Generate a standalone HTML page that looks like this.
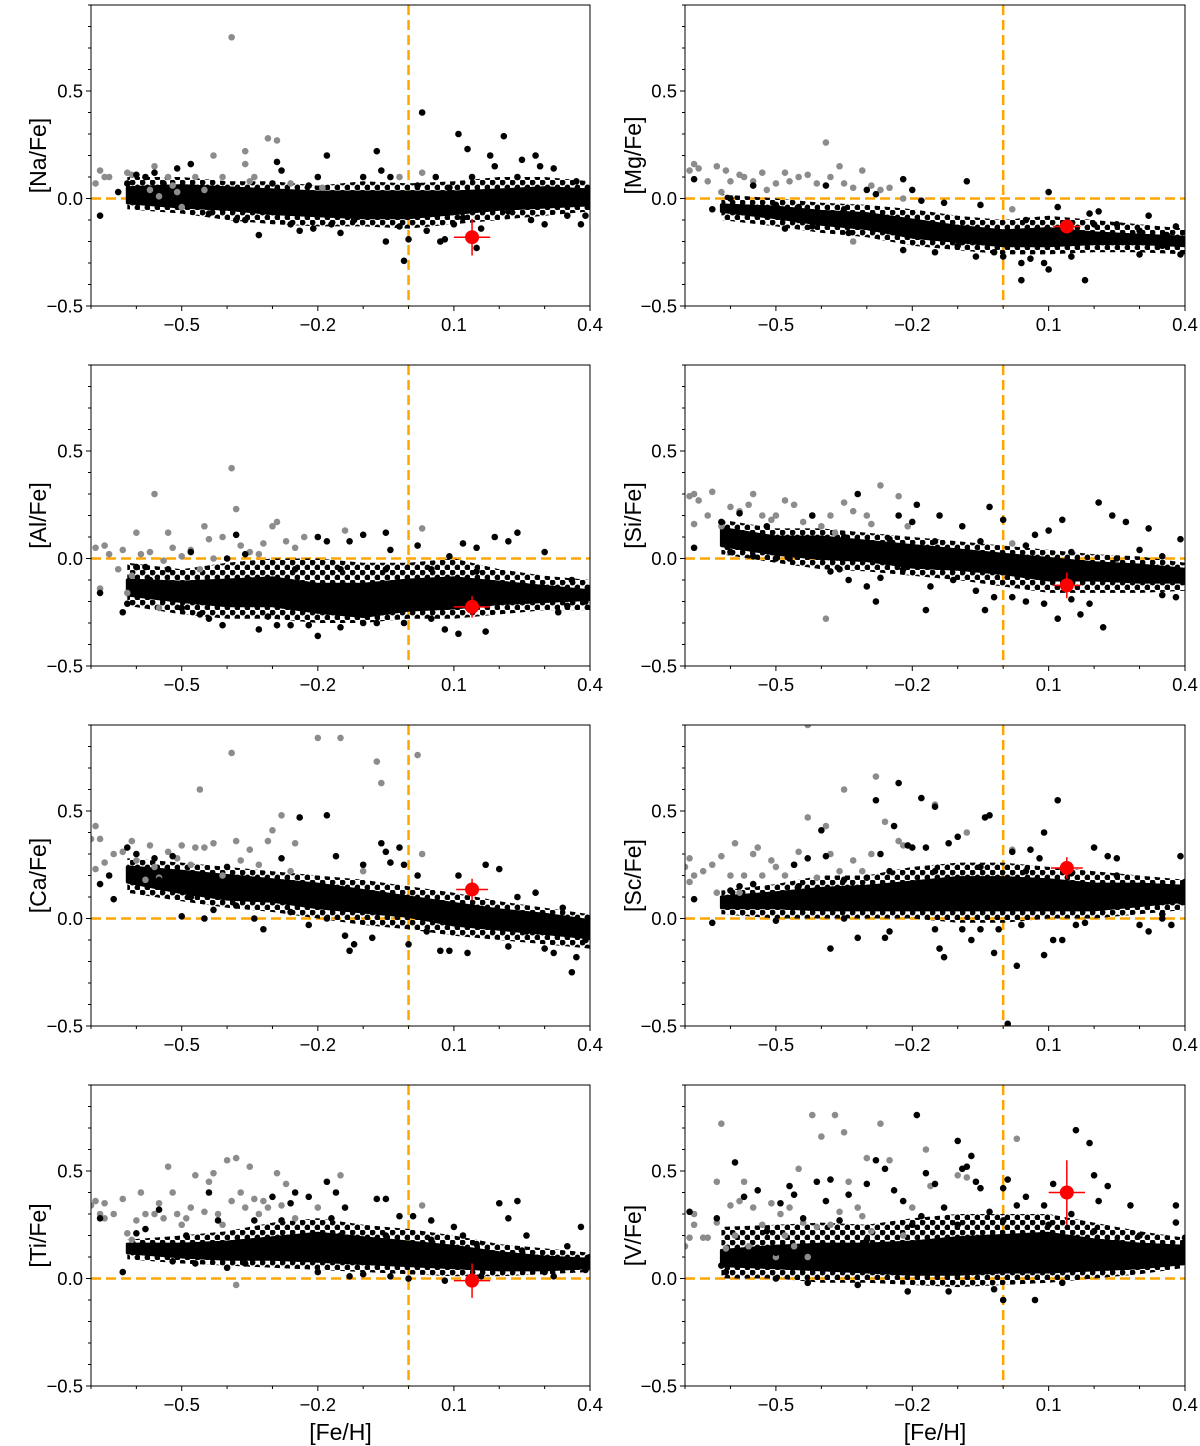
<!DOCTYPE html>
<html><head><meta charset="utf-8"><title>Abundance ratios vs [Fe/H]</title>
<style>
html,body{margin:0;padding:0;background:#fff;}
svg{display:block;font-family:"Liberation Sans","DejaVu Sans",sans-serif;}
</style></head>
<body>
<svg id="fig" width="1200" height="1446" viewBox="0 0 1200 1446" xmlns="http://www.w3.org/2000/svg"></svg>
<script>
// ---------- shared axis data ----------
const xTickValues=[-0.5,-0.2,0.1,0.4];
const xTickLabels=["\u22120.5","\u22120.2","0.1","0.4"];
const yTickValues=[-0.5,0.0,0.5];
const yTickLabels=["\u22120.5","0.0","0.5"];
const xDomain=[-0.7,0.4];
const yDomain=[-0.5,0.9];
const bandX=[-0.62,-0.5,-0.4,-0.3,-0.2,-0.1,0,0.1,0.2,0.3,0.4];

// ---------- panel data ----------
const naLabel="[Na/Fe]";
const naLo=[-0.02,-0.04,-0.05,-0.07,-0.08,-0.09,-0.09,-0.07,-0.05,-0.04,-0.03];
const naHi=[0.05,0.06,0.05,0.04,0.03,0.03,0.03,0.03,0.04,0.05,0.04];
const naOutLo=[-0.05,-0.07,-0.1,-0.12,-0.13,-0.13,-0.14,-0.12,-0.1,-0.08,-0.06];
const naOutHi=[0.1,0.1,0.08,0.08,0.06,0.08,0.07,0.08,0.1,0.1,0.08];
const naGray=[[-0.69,0.07],[-0.68,0.13],[-0.67,0.1],[-0.66,0.1],[-0.62,0.12],[-0.61,0.11],[-0.57,0.04],[-0.56,0.15],[-0.55,0.01],[-0.52,0.06],[-0.51,0.03],[-0.5,-0.04],[-0.47,0.1],[-0.45,0.04],[-0.43,0.2],[-0.41,0.1],[-0.39,0.75],[-0.36,0.22],[-0.36,0.16],[-0.35,0.08],[-0.34,0.1],[-0.31,0.28],[-0.29,0.27],[-0.26,0.07],[-0.19,0.05],[-0.02,0.1],[0.03,0.12],[-0.53,0.1]];
const naBlack=[[-0.68,-0.08],[-0.6,0.11],[-0.58,0.1],[-0.56,0.12],[-0.51,0.14],[-0.48,0.16],[-0.44,-0.07],[-0.41,-0.05],[-0.38,-0.1],[-0.36,-0.1],[-0.33,-0.17],[-0.29,0.17],[-0.28,0.13],[-0.26,-0.12],[-0.24,-0.15],[-0.21,-0.14],[-0.18,0.2],[-0.17,-0.12],[-0.15,-0.16],[-0.12,-0.1],[-0.1,0.1],[-0.07,0.22],[-0.06,0.13],[-0.05,-0.2],[-0.04,0.1],[-0.02,-0.13],[-0.01,-0.29],[0.0,-0.19],[0.02,0.06],[0.03,0.4],[0.04,-0.15],[0.06,0.1],[0.07,-0.2],[0.08,-0.19],[0.1,-0.12],[0.11,0.3],[0.12,-0.09],[0.13,0.23],[0.15,-0.23],[0.16,-0.14],[0.18,0.2],[0.19,0.15],[0.21,0.29],[0.22,-0.06],[0.24,0.1],[0.25,0.18],[0.27,-0.1],[0.28,0.2],[0.29,0.15],[0.3,-0.12],[0.32,0.14],[0.34,0.03],[0.35,-0.08],[0.37,0.08],[0.38,-0.12],[0.39,-0.08],[0.4,0.02],[-0.64,0.03],[-0.62,0.07],[-0.54,0.07],[-0.46,0.0],[-0.2,0.1],[-0.22,0.06],[-0.3,0.07],[0.14,0.1],[0.09,0.05]];
const naStar=[0.14,-0.18,0.04,0.085];

const mgLabel="[Mg/Fe]";
const mgLo=[-0.06,-0.09,-0.12,-0.14,-0.18,-0.2,-0.22,-0.22,-0.21,-0.21,-0.22];
const mgHi=[-0.03,-0.04,-0.06,-0.07,-0.1,-0.13,-0.15,-0.14,-0.16,-0.17,-0.18];
const mgOutLo=[-0.1,-0.13,-0.16,-0.18,-0.22,-0.24,-0.26,-0.26,-0.25,-0.25,-0.26];
const mgOutHi=[0.02,0.0,-0.02,-0.03,-0.05,-0.08,-0.1,-0.08,-0.1,-0.12,-0.14];
const mgGray=[[-0.69,0.13],[-0.68,0.16],[-0.67,0.14],[-0.65,0.08],[-0.63,0.15],[-0.62,0.03],[-0.61,0.13],[-0.6,0.08],[-0.58,0.11],[-0.57,0.1],[-0.55,0.08],[-0.53,0.12],[-0.52,0.04],[-0.5,0.07],[-0.48,0.12],[-0.47,0.08],[-0.45,0.1],[-0.43,0.11],[-0.41,0.07],[-0.39,0.26],[-0.38,0.1],[-0.36,0.15],[-0.35,0.07],[-0.33,0.05],[-0.31,0.13],[-0.29,0.06],[-0.27,0.04],[-0.25,0.05],[-0.33,-0.2],[-0.22,0.0],[0.02,-0.05]];
const mgBlack=[[-0.68,0.09],[-0.64,-0.05],[-0.6,0.0],[-0.55,0.06],[-0.52,-0.08],[-0.48,-0.14],[-0.45,-0.1],[-0.42,-0.13],[-0.39,0.06],[-0.34,-0.16],[-0.3,0.04],[-0.28,0.02],[-0.22,0.09],[-0.2,0.04],[-0.18,-0.01],[-0.22,-0.24],[-0.15,-0.25],[-0.1,-0.22],[-0.08,0.08],[-0.06,-0.27],[-0.02,-0.25],[0.0,-0.27],[0.04,-0.3],[0.04,-0.38],[0.06,-0.28],[0.09,-0.3],[0.1,0.03],[0.1,-0.33],[0.12,-0.04],[0.15,-0.27],[0.18,-0.38],[0.19,-0.07],[0.21,-0.06],[0.25,-0.12],[0.27,-0.2],[0.3,-0.26],[0.32,-0.08],[0.35,-0.22],[0.38,-0.13],[0.39,-0.26],[0.4,-0.2],[-0.56,-0.05],[-0.5,-0.03],[-0.45,-0.04],[-0.35,-0.05],[-0.25,-0.12],[-0.13,-0.02],[-0.05,-0.03],[0.05,-0.1],[0.2,-0.12],[0.3,-0.15],[0.36,-0.17]];
const mgStar=[0.14,-0.13,0.03,0.03];

const alLabel="[Al/Fe]";
const alLo=[-0.17,-0.2,-0.22,-0.22,-0.25,-0.27,-0.24,-0.23,-0.21,-0.2,-0.19];
const alHi=[-0.1,-0.11,-0.1,-0.09,-0.12,-0.12,-0.1,-0.09,-0.11,-0.13,-0.15];
const alOutLo=[-0.22,-0.26,-0.28,-0.28,-0.3,-0.3,-0.28,-0.28,-0.26,-0.24,-0.24];
const alOutHi=[-0.02,-0.05,-0.02,0.0,0.0,-0.02,-0.02,0.0,-0.05,-0.08,-0.1];
const alGray=[[-0.69,0.05],[-0.68,-0.14],[-0.67,0.06],[-0.66,0.02],[-0.64,-0.05],[-0.63,0.04],[-0.62,-0.16],[-0.61,-0.08],[-0.6,0.12],[-0.59,0.02],[-0.57,0.03],[-0.56,0.3],[-0.55,-0.23],[-0.54,-0.01],[-0.53,0.12],[-0.52,0.05],[-0.5,0.01],[-0.48,0.04],[-0.46,-0.05],[-0.45,0.15],[-0.44,0.09],[-0.43,0.0],[-0.41,0.1],[-0.39,0.42],[-0.38,0.23],[-0.37,0.06],[-0.35,0.03],[-0.33,0.02],[-0.32,0.07],[-0.3,0.15],[-0.29,0.17],[-0.27,0.08],[-0.25,0.05],[-0.23,0.1],[-0.14,0.13],[0.03,0.14]];
const alBlack=[[-0.68,-0.16],[-0.63,-0.25],[-0.62,-0.21],[-0.6,-0.04],[-0.58,-0.04],[-0.56,-0.14],[-0.53,-0.05],[-0.5,-0.23],[-0.48,0.03],[-0.46,-0.26],[-0.44,-0.28],[-0.41,-0.31],[-0.4,0.0],[-0.38,0.11],[-0.36,0.02],[-0.33,-0.33],[-0.31,-0.27],[-0.29,-0.31],[-0.26,-0.31],[-0.22,-0.31],[-0.2,-0.36],[-0.2,0.1],[-0.18,0.08],[-0.15,-0.32],[-0.13,0.08],[-0.1,0.11],[-0.1,-0.3],[-0.07,-0.3],[-0.05,0.12],[-0.04,0.04],[-0.01,-0.3],[0.02,0.06],[0.05,-0.28],[0.08,-0.33],[0.09,0.01],[0.11,-0.35],[0.12,0.07],[0.15,0.05],[0.17,-0.34],[0.19,0.1],[0.22,0.08],[0.24,0.12],[0.26,-0.13],[0.3,0.03],[0.33,-0.25],[0.36,-0.1],[0.39,-0.2],[0.4,-0.17],[-0.57,-0.1],[-0.52,-0.14],[-0.45,-0.14],[-0.35,-0.1],[-0.25,-0.05],[-0.15,-0.05],[-0.05,-0.05],[0.05,-0.05],[0.15,-0.06],[0.25,-0.2],[0.35,-0.22]];
const alStar=[0.14,-0.225,0.04,0.05];

const siLabel="[Si/Fe]";
const siLo=[0.06,0.02,0.0,-0.01,-0.04,-0.05,-0.07,-0.1,-0.1,-0.11,-0.11];
const siHi=[0.14,0.1,0.1,0.08,0.06,0.04,0.02,0.0,-0.02,-0.03,-0.05];
const siOutLo=[0.02,-0.02,-0.05,-0.06,-0.08,-0.1,-0.13,-0.16,-0.16,-0.16,-0.15];
const siOutHi=[0.18,0.14,0.14,0.12,0.1,0.08,0.06,0.04,0.02,0.01,-0.02];
const siGray=[[-0.69,0.29],[-0.68,0.3],[-0.68,0.16],[-0.67,0.27],[-0.65,0.2],[-0.64,0.31],[-0.62,0.15],[-0.6,0.24],[-0.58,0.22],[-0.56,0.25],[-0.55,0.3],[-0.53,0.2],[-0.51,0.18],[-0.5,0.2],[-0.48,0.27],[-0.46,0.25],[-0.44,0.17],[-0.42,0.2],[-0.4,0.15],[-0.38,0.2],[-0.37,0.12],[-0.35,0.26],[-0.33,0.22],[-0.3,0.2],[-0.29,0.16],[-0.27,0.34],[-0.23,0.29],[-0.21,0.15],[-0.39,-0.28],[0.02,0.07]];
const siBlack=[[-0.68,0.05],[-0.62,0.17],[-0.6,0.03],[-0.58,0.21],[-0.55,0.01],[-0.52,0.15],[-0.5,0.0],[-0.47,0.0],[-0.42,0.2],[-0.38,-0.06],[-0.36,-0.05],[-0.34,-0.1],[-0.32,0.3],[-0.3,-0.13],[-0.28,-0.2],[-0.27,-0.09],[-0.23,0.2],[-0.22,-0.05],[-0.2,0.17],[-0.19,0.25],[-0.17,-0.24],[-0.16,-0.13],[-0.14,0.2],[-0.11,-0.1],[-0.09,0.15],[-0.06,-0.15],[-0.04,-0.24],[-0.03,0.24],[-0.02,-0.18],[0.0,0.18],[0.02,-0.18],[0.05,-0.2],[0.07,0.11],[0.09,-0.21],[0.1,0.13],[0.12,-0.28],[0.13,0.18],[0.15,-0.19],[0.17,-0.26],[0.19,-0.21],[0.21,0.26],[0.22,-0.32],[0.24,0.2],[0.27,0.17],[0.3,0.04],[0.32,0.14],[0.35,-0.17],[0.39,0.09],[0.4,-0.1],[0.38,-0.18],[-0.55,0.1],[-0.45,0.06],[-0.35,0.1],[-0.25,0.09],[-0.15,0.08],[-0.05,0.08],[0.05,0.06],[0.15,0.03],[0.25,0.0],[0.35,0.01]];
const siStar=[0.14,-0.125,0.03,0.06];

const caLabel="[Ca/Fe]";
const caLo=[0.17,0.12,0.09,0.08,0.05,0.03,0.01,-0.03,-0.05,-0.07,-0.09];
const caHi=[0.24,0.22,0.2,0.18,0.16,0.13,0.1,0.07,0.04,0.02,-0.01];
const caOutLo=[0.12,0.08,0.05,0.03,0.0,-0.03,-0.05,-0.08,-0.1,-0.12,-0.14];
const caOutHi=[0.28,0.26,0.24,0.22,0.2,0.18,0.15,0.12,0.08,0.05,0.02];
const caGray=[[-0.7,0.37],[-0.69,0.43],[-0.69,0.23],[-0.68,0.37],[-0.67,0.26],[-0.65,0.3],[-0.63,0.31],[-0.61,0.36],[-0.6,0.27],[-0.58,0.18],[-0.57,0.34],[-0.56,0.24],[-0.55,0.19],[-0.53,0.31],[-0.51,0.28],[-0.5,0.34],[-0.48,0.25],[-0.47,0.33],[-0.46,0.6],[-0.45,0.33],[-0.43,0.35],[-0.41,0.2],[-0.39,0.77],[-0.38,0.36],[-0.37,0.27],[-0.35,0.32],[-0.33,0.25],[-0.31,0.36],[-0.3,0.41],[-0.28,0.48],[-0.26,0.22],[-0.25,0.35],[-0.2,0.84],[-0.15,0.84],[-0.1,0.22],[-0.07,0.73],[-0.06,0.63],[0.02,0.76],[0.03,0.3]];
const caBlack=[[-0.68,0.16],[-0.66,0.2],[-0.65,0.09],[-0.62,0.33],[-0.6,0.3],[-0.56,0.28],[-0.52,0.29],[-0.5,0.01],[-0.48,0.1],[-0.45,0.0],[-0.43,0.04],[-0.4,0.24],[-0.38,0.06],[-0.34,0.0],[-0.32,-0.05],[-0.28,0.28],[-0.26,0.03],[-0.24,0.47],[-0.22,-0.03],[-0.18,0.48],[-0.18,0.0],[-0.16,0.29],[-0.14,-0.08],[-0.13,-0.15],[-0.12,-0.12],[-0.1,0.25],[-0.08,-0.09],[-0.06,0.35],[-0.05,0.31],[-0.04,0.26],[-0.02,0.33],[-0.01,0.25],[0.0,-0.12],[0.02,0.2],[0.04,-0.06],[0.07,-0.15],[0.09,-0.15],[0.11,0.2],[0.13,-0.16],[0.17,0.25],[0.2,0.23],[0.22,-0.13],[0.24,0.1],[0.26,-0.06],[0.28,0.12],[0.3,-0.14],[0.32,-0.16],[0.34,0.05],[0.36,-0.25],[0.37,-0.18],[0.39,-0.1],[0.4,-0.07],[-0.6,0.2],[-0.55,0.18],[-0.45,0.14],[-0.35,0.13],[-0.25,0.12],[-0.15,0.08],[-0.05,0.05],[0.05,0.03],[0.15,0.0],[0.25,-0.03],[0.35,-0.05]];
const caStar=[0.14,0.135,0.035,0.05];

const scLabel="[Sc/Fe]";
const scLo=[0.05,0.05,0.04,0.04,0.04,0.04,0.04,0.04,0.04,0.06,0.08];
const scHi=[0.1,0.12,0.14,0.15,0.17,0.19,0.19,0.18,0.16,0.16,0.15];
const scOutLo=[0.02,0.0,0.0,0.0,0.0,-0.02,-0.02,0.0,0.0,0.02,0.04];
const scOutHi=[0.13,0.16,0.2,0.2,0.24,0.26,0.26,0.24,0.22,0.2,0.18];
const scGray=[[-0.7,0.24],[-0.69,0.28],[-0.69,0.17],[-0.68,0.2],[-0.66,0.22],[-0.64,0.25],[-0.63,0.12],[-0.62,0.29],[-0.6,0.2],[-0.59,0.35],[-0.58,0.12],[-0.57,0.2],[-0.55,0.3],[-0.54,0.33],[-0.53,0.2],[-0.51,0.27],[-0.5,0.24],[-0.48,0.2],[-0.46,0.25],[-0.45,0.31],[-0.43,0.9],[-0.43,0.47],[-0.41,0.19],[-0.39,0.43],[-0.38,0.3],[-0.36,0.22],[-0.35,0.6],[-0.33,0.27],[-0.31,0.22],[-0.29,0.3],[-0.28,0.66],[-0.26,0.45],[-0.23,0.36],[-0.22,0.34],[-0.15,0.53],[-0.08,0.4],[0.02,0.32]];
const scBlack=[[-0.68,0.09],[-0.64,-0.02],[-0.6,0.13],[-0.58,0.15],[-0.55,0.16],[-0.5,-0.01],[-0.46,0.25],[-0.43,0.28],[-0.4,0.41],[-0.39,0.29],[-0.38,-0.14],[-0.35,0.0],[-0.32,-0.09],[-0.3,0.19],[-0.28,0.55],[-0.27,0.3],[-0.26,-0.09],[-0.25,-0.06],[-0.24,0.43],[-0.23,0.63],[-0.21,0.34],[-0.2,0.33],[-0.18,0.56],[-0.17,0.33],[-0.15,-0.05],[-0.15,0.52],[-0.14,-0.14],[-0.13,-0.18],[-0.12,0.35],[-0.1,0.38],[-0.09,-0.05],[-0.07,-0.1],[-0.05,-0.05],[-0.04,0.47],[-0.03,0.48],[-0.02,-0.16],[-0.01,-0.05],[0.01,-0.49],[0.02,0.31],[0.03,-0.22],[0.04,-0.03],[0.06,0.32],[0.08,0.28],[0.09,0.4],[0.09,-0.17],[0.11,-0.1],[0.12,0.55],[0.13,-0.1],[0.16,-0.03],[0.18,-0.02],[0.2,0.33],[0.23,0.29],[0.25,0.28],[0.3,-0.03],[0.32,-0.06],[0.35,0.0],[0.37,-0.03],[0.39,0.29],[0.39,0.08],[0.4,0.17],[-0.55,0.08],[-0.45,0.15],[-0.35,0.18],[-0.25,0.22],[-0.15,0.22],[-0.05,0.24],[0.05,0.22],[0.15,0.21],[0.25,0.2],[0.35,0.02]];
const scStar=[0.14,0.235,0.035,0.05];

const tiLabel="[Ti/Fe]";
const tiLo=[0.12,0.1,0.09,0.09,0.08,0.07,0.06,0.05,0.04,0.04,0.05];
const tiHi=[0.16,0.16,0.17,0.19,0.21,0.19,0.17,0.15,0.12,0.1,0.09];
const tiOutLo=[0.09,0.07,0.06,0.05,0.04,0.03,0.02,0.01,0.01,0.02,0.03];
const tiOutHi=[0.18,0.2,0.22,0.26,0.28,0.25,0.23,0.2,0.16,0.14,0.12];
const tiGray=[[-0.7,0.34],[-0.69,0.36],[-0.68,0.3],[-0.67,0.35],[-0.67,0.28],[-0.65,0.3],[-0.63,0.37],[-0.62,0.21],[-0.61,0.18],[-0.6,0.27],[-0.59,0.4],[-0.58,0.3],[-0.56,0.3],[-0.55,0.35],[-0.54,0.28],[-0.53,0.52],[-0.52,0.4],[-0.51,0.3],[-0.5,0.25],[-0.49,0.28],[-0.48,0.33],[-0.47,0.48],[-0.45,0.31],[-0.44,0.45],[-0.43,0.49],[-0.42,0.3],[-0.41,0.25],[-0.4,0.55],[-0.39,0.36],[-0.38,0.56],[-0.37,0.4],[-0.36,0.33],[-0.35,0.52],[-0.34,0.37],[-0.33,0.3],[-0.32,0.36],[-0.31,0.33],[-0.29,0.49],[-0.28,0.34],[-0.27,0.44],[-0.25,0.28],[-0.2,0.33],[-0.15,0.48],[-0.38,-0.03],[0.03,0.34]];
const tiBlack=[[-0.68,0.28],[-0.63,0.03],[-0.6,0.21],[-0.58,0.23],[-0.55,0.32],[-0.52,0.08],[-0.49,0.2],[-0.47,0.07],[-0.44,0.4],[-0.42,0.27],[-0.4,0.05],[-0.36,0.07],[-0.34,0.27],[-0.3,0.38],[-0.28,0.27],[-0.26,0.35],[-0.25,0.4],[-0.22,0.38],[-0.2,0.03],[-0.18,0.45],[-0.17,0.28],[-0.16,0.4],[-0.14,0.33],[-0.13,0.01],[-0.1,0.02],[-0.07,0.37],[-0.05,0.37],[-0.04,0.01],[-0.02,0.29],[0.0,0.0],[0.01,0.29],[0.05,0.27],[0.08,-0.01],[0.1,0.24],[0.12,0.2],[0.16,0.01],[0.2,0.35],[0.22,0.28],[0.24,0.36],[0.26,0.2],[0.3,0.03],[0.32,0.01],[0.35,0.15],[0.38,0.24],[0.39,0.04],[0.4,0.1],[-0.55,0.13],[-0.45,0.14],[-0.35,0.15],[-0.25,0.18],[-0.15,0.2],[-0.05,0.2],[0.05,0.18],[0.15,0.16],[0.25,0.13],[0.35,0.08]];
const tiStar=[0.14,-0.01,0.04,0.08];

const vLabel="[V/Fe]";
const vLo=[0.06,0.05,0.04,0.03,0.02,0.02,0.03,0.03,0.04,0.05,0.07];
const vHi=[0.13,0.15,0.16,0.16,0.17,0.19,0.2,0.21,0.18,0.16,0.15];
const vOutLo=[0.0,0.0,-0.02,-0.02,-0.03,-0.04,-0.03,-0.02,0.0,0.02,0.05];
const vOutHi=[0.24,0.25,0.26,0.25,0.28,0.3,0.3,0.3,0.26,0.22,0.19];
const vGray=[[-0.7,0.15],[-0.69,0.19],[-0.68,0.3],[-0.68,0.25],[-0.66,0.19],[-0.65,0.19],[-0.63,0.26],[-0.63,0.45],[-0.62,0.72],[-0.61,0.14],[-0.6,0.34],[-0.59,0.2],[-0.58,0.36],[-0.57,0.45],[-0.56,0.15],[-0.55,0.33],[-0.53,0.25],[-0.51,0.35],[-0.5,0.1],[-0.49,0.3],[-0.48,0.2],[-0.47,0.33],[-0.46,0.15],[-0.45,0.51],[-0.44,0.26],[-0.43,0.1],[-0.42,0.76],[-0.41,0.24],[-0.4,0.66],[-0.38,0.25],[-0.37,0.76],[-0.36,0.31],[-0.35,0.68],[-0.34,0.45],[-0.32,0.33],[-0.31,0.29],[-0.3,0.56],[-0.29,0.22],[-0.27,0.72],[-0.25,0.55],[-0.22,0.2],[-0.2,0.33],[-0.17,0.6],[-0.16,0.43],[-0.1,0.48],[-0.08,0.47],[0.03,0.65]];
const vBlack=[[-0.69,0.31],[-0.63,0.28],[-0.62,0.06],[-0.61,0.03],[-0.59,0.54],[-0.57,0.38],[-0.55,0.07],[-0.54,0.41],[-0.52,0.22],[-0.5,0.0],[-0.49,0.35],[-0.47,0.43],[-0.46,0.39],[-0.44,0.28],[-0.43,-0.02],[-0.41,0.45],[-0.39,0.36],[-0.38,0.46],[-0.36,0.27],[-0.34,0.39],[-0.32,-0.03],[-0.3,0.44],[-0.28,0.55],[-0.26,0.51],[-0.24,0.41],[-0.22,0.36],[-0.21,-0.06],[-0.19,0.76],[-0.18,0.29],[-0.17,0.49],[-0.15,0.44],[-0.13,0.33],[-0.12,-0.06],[-0.1,0.64],[-0.09,0.51],[-0.08,0.52],[-0.07,0.57],[-0.06,0.45],[-0.05,0.42],[-0.03,0.31],[-0.02,-0.05],[0.0,-0.1],[0.0,0.42],[0.01,0.46],[0.03,0.34],[0.05,0.38],[0.07,-0.1],[0.09,0.34],[0.11,0.44],[0.13,-0.02],[0.15,0.3],[0.16,0.69],[0.19,0.63],[0.2,0.48],[0.21,0.36],[0.23,0.43],[0.25,0.17],[0.28,0.34],[0.3,0.2],[0.33,0.1],[0.38,0.26],[0.38,0.34],[0.39,0.13],[0.4,0.19],[-0.5,0.12],[-0.4,0.15],[-0.3,0.18],[-0.2,0.25],[-0.1,0.25],[0.0,0.27],[0.1,0.25],[0.2,0.22],[0.3,0.13]];
const vStar=[0.14,0.4,0.04,0.15];

// ---------- layout ----------
const NS="http://www.w3.org/2000/svg";
const svg=document.getElementById('fig');
function mk(tag,attrs,parent){const e=document.createElementNS(NS,tag);for(const k in attrs)e.setAttribute(k,attrs[k]);(parent||svg).appendChild(e);return e;}

const panels=[
 {key:'na',label:naLabel,lo:naLo,hi:naHi,olo:naOutLo,ohi:naOutHi,gray:naGray,black:naBlack,star:naStar,L:91,R:590,T:5,xlab:false,ylx:38},
 {key:'mg',label:mgLabel,lo:mgLo,hi:mgHi,olo:mgOutLo,ohi:mgOutHi,gray:mgGray,black:mgBlack,star:mgStar,L:685,R:1185,T:5,xlab:false,ylx:633},
 {key:'al',label:alLabel,lo:alLo,hi:alHi,olo:alOutLo,ohi:alOutHi,gray:alGray,black:alBlack,star:alStar,L:91,R:590,T:365,xlab:false,ylx:38},
 {key:'si',label:siLabel,lo:siLo,hi:siHi,olo:siOutLo,ohi:siOutHi,gray:siGray,black:siBlack,star:siStar,L:685,R:1185,T:365,xlab:false,ylx:633},
 {key:'ca',label:caLabel,lo:caLo,hi:caHi,olo:caOutLo,ohi:caOutHi,gray:caGray,black:caBlack,star:caStar,L:91,R:590,T:725,xlab:false,ylx:38},
 {key:'sc',label:scLabel,lo:scLo,hi:scHi,olo:scOutLo,ohi:scOutHi,gray:scGray,black:scBlack,star:scStar,L:685,R:1185,T:725,xlab:false,ylx:633},
 {key:'ti',label:tiLabel,lo:tiLo,hi:tiHi,olo:tiOutLo,ohi:tiOutHi,gray:tiGray,black:tiBlack,star:tiStar,L:91,R:590,T:1085,xlab:true,ylx:38},
 {key:'v',label:vLabel,lo:vLo,hi:vHi,olo:vOutLo,ohi:vOutHi,gray:vGray,black:vBlack,star:vStar,L:685,R:1185,T:1085,xlab:true,ylx:633}
];
const H=301;
const defs=mk('defs',{});
const pat=mk('pattern',{id:'dotfill',width:10,height:10,patternUnits:'userSpaceOnUse'},defs);
mk('circle',{cx:2.5,cy:2.5,r:3,fill:'#000'},pat);
mk('circle',{cx:7.5,cy:7.5,r:3,fill:'#000'},pat);

function bandPoints(lo,hi,sx,sy){
 let pts=[];
 bandX.forEach((x,i)=>pts.push(sx(x).toFixed(1)+','+sy(hi[i]).toFixed(1)));
 for(let i=bandX.length-1;i>=0;i--)pts.push(sx(bandX[i]).toFixed(1)+','+sy(lo[i]).toFixed(1));
 return pts.join(' ');
}

panels.forEach(p=>{
 const B=p.T+H;
 const sx=v=>p.L+(v-xDomain[0])/(xDomain[1]-xDomain[0])*(p.R-p.L);
 const sy=v=>B-(v-yDomain[0])/(yDomain[1]-yDomain[0])*H;
 const g=mk('g',{});
 
 
 const cp=mk('clipPath',{id:'clip-'+p.key},defs);
 mk('rect',{x:p.L,y:p.T,width:p.R-p.L,height:H},cp);
 const plot=mk('g',{'clip-path':'url(#clip-'+p.key+')'},g);
 
 
 const hl=mk('line',{x1:p.L,x2:p.R,y1:sy(0),y2:sy(0),stroke:'#FFA500','stroke-width':2.5,'stroke-dasharray':'10,5'},plot);
 
 
 const vl=mk('line',{x1:sx(0),x2:sx(0),y1:p.T,y2:B,stroke:'#FFA500','stroke-width':2.5,'stroke-dasharray':'10,5'},plot);
 
 
 const ob=mk('polygon',{points:bandPoints(p.olo,p.ohi,sx,sy),fill:'url(#dotfill)',stroke:'none'},plot);
 
 
 const band=mk('polygon',{points:bandPoints(p.lo,p.hi,sx,sy),fill:'#000',stroke:'#000','stroke-width':3,'stroke-linejoin':'round'},plot);
 
 
 p.gray.forEach(d=>{
  const c=mk('circle',{cx:sx(d[0]),cy:sy(d[1]),r:3.3,fill:'#8c8c8c'},plot);
  
  
 });
 p.black.forEach(d=>{
  const c=mk('circle',{cx:sx(d[0]),cy:sy(d[1]),r:3.3,fill:'#000'},plot);
  
  
 });
 const s=p.star;
 const eg=mk('g',{stroke:'#ff0000','stroke-width':1.5},plot);
 
 
 mk('line',{x1:sx(s[0]-s[2]),x2:sx(s[0]+s[2]),y1:sy(s[1]),y2:sy(s[1])},eg);
 mk('line',{x1:sx(s[0]),x2:sx(s[0]),y1:sy(s[1]-s[3]),y2:sy(s[1]+s[3])},eg);
 const sc=mk('circle',{cx:sx(s[0]),cy:sy(s[1]),r:7,fill:'#ff0000'},plot);
 
 
 const fr=mk('rect',{x:p.L,y:p.T,width:p.R-p.L,height:H,fill:'none',stroke:'#000','stroke-width':1},g);
 
 
 for(let k=-7;k<=4;k++){
  const X=sx(k/10), major=(k%3===1||k%3===-2);
  mk('line',{x1:X,x2:X,y1:B,y2:B+(major?5:3),stroke:'#000','stroke-width':1},g);
 }
 for(let k=-5;k<=9;k++){
  const Y=sy(k/10), major=(k%5===0);
  mk('line',{x1:p.L,x2:p.L-(major?5:3),y1:Y,y2:Y,stroke:'#000','stroke-width':1},g);
 }
 xTickValues.forEach((v,i)=>{
  const t=mk('text',{x:sx(v),y:B+25,'text-anchor':'middle','font-size':18.5,fill:'#000'},g);
  t.textContent=xTickLabels[i];
  
  
 });
 yTickValues.forEach((v,i)=>{
  const t=mk('text',{x:p.L-8,y:sy(v)+6.5,'text-anchor':'end','font-size':18.5,fill:'#000'},g);
  t.textContent=yTickLabels[i];
  
  
 });
 const cy=p.T+H/2;
 const yl=mk('text',{x:p.ylx,y:cy,'text-anchor':'middle','dominant-baseline':'central','font-size':23,fill:'#000',transform:'rotate(-90 '+p.ylx+' '+cy+')'},g);
 yl.textContent=p.label;
 
 
 if(p.xlab){
  const xl=mk('text',{x:(p.L+p.R)/2,y:1440,'text-anchor':'middle','font-size':23,fill:'#000'},g);
  xl.textContent='[Fe/H]';
  
  
 }
});
</script>
</body></html>
